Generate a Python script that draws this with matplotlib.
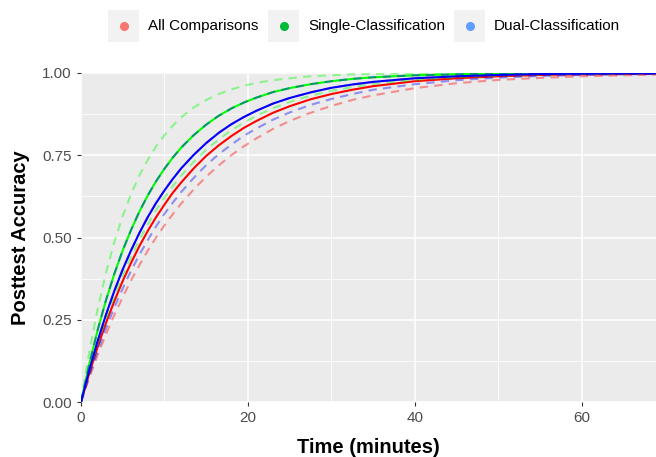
import matplotlib
matplotlib.use("Agg")
import matplotlib.pyplot as plt
from matplotlib.lines import Line2D
from matplotlib.patches import Rectangle

plt.rcParams['font.family'] = ['Liberation Sans', 'DejaVu Sans']

minutes = [0, 1, 2, 3, 4, 5, 6, 7, 8, 9, 10, 11, 12, 13.5, 15, 16.5, 18, 19.5, 21, 23, 25,
           27.5, 30, 32.5, 35, 40, 45, 50, 55, 60, 65, 69]

# all comparisons (red)
all_mid = [0, .088, .168, .241, .307, .368, .423, .474, .520, .562, .600, .636, .667, .710, .748,
           .780, .808, .833, .854, .879, .899, .920, .936, .949, .960, .975, .984, .990, .994,
           .996, .997, .998]
all_hi = [0, .098, .186, .266, .338, .403, .461, .514, .562, .605, .643, .678, .710, .751, .787,
          .818, .844, .866, .885, .907, .924, .941, .955, .965, .973, .984, .990, .994, .997,
          .998, .999, .999]
all_lo = [0, .074, .143, .206, .265, .319, .370, .416, .460, .500, .537, .571, .603, .646, .685,
          .719, .750, .777, .801, .830, .854, .879, .900, .918, .932, .954, .969, .979, .985,
          .990, .993, .995]

# single-classification (green)
single_mid = [0, .116, .219, .310, .390, .461, .523, .579, .628, .671, .709, .743, .773, .811, .843,
              .870, .892, .910, .925, .942, .954, .966, .975, .982, .987, .993, .996, .998, .999,
              .999, 1, 1]
single_hi = [0, .153, .283, .393, .487, .565, .632, .689, .736, .777, .811, .840, .865, .895, .918,
             .936, .950, .961, .970, .978, .984, .990, .993, .996, .997, .999, 1, 1, 1,
             1, 1, 1]
single_lo = [0, .093, .177, .253, .322, .385, .441, .493, .540, .583, .621, .656, .688, .730, .767,
             .798, .826, .849, .870, .893, .912, .931, .946, .957, .967, .979, .987, .992, .995,
             .997, .998, .999]

# dual-classification (blue)
dual_mid = [0, .098, .186, .266, .338, .403, .461, .514, .562, .605, .643, .678, .710, .751, .787,
            .818, .844, .866, .885, .907, .924, .941, .955, .965, .973, .984, .990, .994, .997,
            .998, .999, .999]
dual_hi = [0, .116, .219, .310, .390, .461, .523, .579, .628, .671, .709, .743, .773, .811, .843,
           .870, .892, .910, .925, .942, .954, .966, .975, .982, .987, .993, .996, .998, .999,
           .999, 1, 1]
dual_lo = [0, .081, .156, .224, .288, .345, .399, .448, .492, .534, .572, .606, .638, .681, .720,
           .753, .782, .809, .831, .858, .880, .903, .921, .936, .949, .966, .978, .986, .991,
           .994, .996, .997]

legend_labels = ["All Comparisons", "Single-Classification", "Dual-Classification"]
legend_colors = ["#F8766D", "#00BA38", "#619CFF"]

fig = plt.figure(figsize=(6.56, 4.57), dpi=100)
ax = fig.add_axes([81 / 656, 55 / 457, 575 / 656, 329 / 457])
ax.set_facecolor("#EBEBEB")

# each group: solid fitted curve, then its dashed bounds on top
dash = (0, (4, 3))
groups = [(all_mid, all_lo, all_hi, "#FF0000"),
          (single_mid, single_lo, single_hi, "#00FF00"),
          (dual_mid, dual_lo, dual_hi, "#0000FF")]
z = 3
for mid, lo, hi, c in groups:
    ax.plot(minutes, mid, color=c, lw=1.5, zorder=z)
    ax.plot(minutes, hi, color=c, lw=1.5, ls=dash, alpha=0.4, zorder=z + 0.5)
    ax.plot(minutes, lo, color=c, lw=1.5, ls=dash, alpha=0.4, zorder=z + 0.5)
    z += 1

ax.set_xlim(0, 68.9)
ax.set_ylim(0, 1)
ax.set_xticks([0, 20, 40, 60])
ax.set_xticks([10, 30, 50], minor=True)
ax.set_yticks([0, 0.25, 0.5, 0.75, 1.0])
ax.set_yticklabels(["0.00", "0.25", "0.50", "0.75", "1.00"])
ax.set_yticks([0.125, 0.375, 0.625, 0.875], minor=True)
ax.grid(which="major", color="white", lw=1.1)
ax.grid(which="minor", color="white", lw=0.55)
ax.set_axisbelow(True)
for s in ax.spines.values():
    s.set_visible(False)
ax.tick_params(which="major", length=3, color="#333333", labelsize=11, labelcolor="#4D4D4D", width=0.8)
ax.tick_params(which="minor", length=0)

ax.set_xlabel("Time (minutes)", fontsize=14.5, fontweight="bold", labelpad=9)
ax.set_ylabel("Posttest Accuracy", fontsize=14.5, fontweight="bold", labelpad=9)

# legend drawn along the top
key_x = [108, 268, 454]
for x0, lab, col in zip(key_x, legend_labels, legend_colors):
    fig.add_artist(Rectangle((x0 / 656, 1 - 42 / 457), 31 / 656, 32 / 457,
                             transform=fig.transFigure, facecolor="#F2F2F2", edgecolor="none"))
    fig.add_artist(Line2D([(x0 + 15.5) / 656], [1 - 26 / 457], transform=fig.transFigure,
                          marker="o", markersize=5.5, color=col, linestyle="none"))
    fig.text((x0 + 40) / 656, 1 - 26 / 457, lab, fontsize=11, va="center", ha="left", color="black")

fig.savefig("out.png", dpi=100)
